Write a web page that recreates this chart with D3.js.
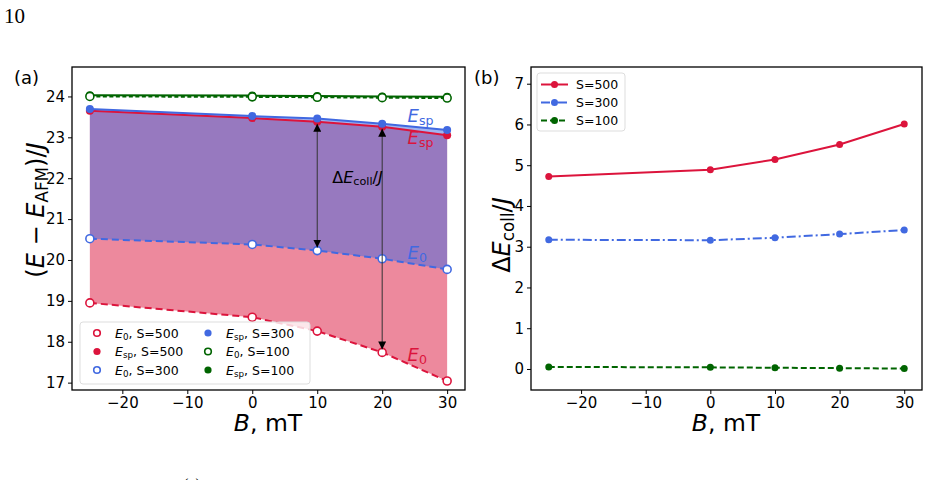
<!DOCTYPE html>
<html>
<head>
<meta charset="utf-8">
<script src="https://cdn.jsdelivr.net/npm/d3@7"></script>
<style>
  body { margin: 0; background: #fff; }
  svg { font-family: "DejaVu Sans", sans-serif; }
</style>
</head>
<body>
<div id="chart"></div>
<script>
// field values, mT
const fields = [-25, 0, 10, 20, 30];

// panel (a): energies (E - E_AFM)/J
const e0S500 = [18.95, 18.60, 18.26, 17.74, 17.04];
const espS500 = [23.65, 23.47, 23.38, 23.26, 23.05];
const e0S300 = [20.52, 20.38, 20.23, 20.03, 19.77];
const espS300 = [23.69, 23.52, 23.46, 23.33, 23.18];
const e0S100 = [24.00, 23.99, 23.98, 23.97, 23.96];
const espS100 = [24.03, 24.02, 24.01, 24.00, 23.99];

// panel (b): collective gap
const dS500 = [4.72, 4.89, 5.14, 5.51, 6.01];
const dS300 = [3.17, 3.16, 3.22, 3.31, 3.41];
const dS100 = [0.05, 0.04, 0.03, 0.02, 0.01];

const xTicks = [-20, -10, 0, 10, 20, 30];
const yTicksA = [17, 18, 19, 20, 21, 22, 23, 24];
const yTicksB = [0, 1, 2, 3, 4, 5, 6, 7];

const RED = "crimson", BLUE = "royalblue", GREEN = "darkgreen";

const svg = d3.select("#chart").append("svg")
    .attr("width", 931).attr("height", 480);

// page number
svg.append("text").attr("x", 4).attr("y", 23)
    .style("font-family", "'Liberation Serif', 'DejaVu Serif', serif")
    .style("font-size", "21px").text("10");

// ---------- helpers ----------
function drawAxes(g, x, y, yTicks) {
    const [x0, x1] = x.range(), [y0, y1] = y.range();
    g.append("g").attr("transform", `translate(0,${y0})`)
        .call(d3.axisBottom(x).tickValues(xTicks).tickSize(4).tickPadding(3)
            .tickFormat(d => d < 0 ? "\u2212" + Math.abs(d) : d));
    g.append("g").attr("transform", `translate(${x0},0)`)
        .call(d3.axisLeft(y).tickValues(yTicks).tickSize(4).tickPadding(3));
    g.selectAll(".domain").remove();
    g.selectAll(".tick text")
        .style("font-family", "'DejaVu Sans'").style("font-size", "15px").attr("fill", "#000");
    g.append("rect").attr("x", x0).attr("y", y1).attr("width", x1 - x0).attr("height", y0 - y1)
        .attr("fill", "none").attr("stroke", "#000").attr("stroke-width", 1.3);
}

function series(g, x, y, vals, color, dash, open, r) {
    const pts = fields.map((f, i) => [f, vals[i]]);
    g.append("path").datum(pts)
        .attr("d", d3.line().x(d => x(d[0])).y(d => y(d[1])))
        .attr("fill", "none").attr("stroke", color).attr("stroke-width", 2)
        .attr("stroke-dasharray", dash);
    g.selectAll(null).data(pts).enter().append("circle")
        .attr("cx", d => x(d[0])).attr("cy", d => y(d[1])).attr("r", r || 4)
        .attr("fill", open ? "#fff" : color).attr("stroke", color)
        .attr("stroke-width", open ? 1.6 : 0);
}

function mathLabel(sel, parts, size) {
    parts.forEach(p => {
        const t = sel.append("tspan").text(p.t);
        if (p.i) t.style("font-style", "italic");
        if (p.sub) t.attr("baseline-shift", "-22%").style("font-size", (size * 0.7) + "px");
    });
}

// ---------- panel (a) ----------
const gA = svg.append("g");
const xA = d3.scaleLinear().domain([-27.75, 32.75]).range([72, 465]);
const yA = d3.scaleLinear().domain([16.82, 24.72]).range([390, 67]);

const area = (lo, hi) => d3.area()
    .x((d, i) => xA(fields[i]))
    .y0((d, i) => yA(lo[i])).y1((d, i) => yA(hi[i]))(fields);

gA.append("path").attr("d", area(e0S500, espS500))
    .attr("fill", RED).attr("fill-opacity", 0.5);
gA.append("path").attr("d", area(e0S300, espS300))
    .attr("fill", BLUE).attr("fill-opacity", 0.5);

drawAxes(gA, xA, yA, yTicksA);

series(gA, xA, yA, e0S500, RED, "7,4", true);
series(gA, xA, yA, espS500, RED, null, false);
series(gA, xA, yA, e0S300, BLUE, "7,4", true);
series(gA, xA, yA, espS300, BLUE, null, false);
series(gA, xA, yA, espS100, GREEN, null, false);
series(gA, xA, yA, e0S100, GREEN, "4,2.5", true);

// double arrows for the gap
svg.append("defs").append("marker").attr("id", "tri")
    .attr("viewBox", "0 0 10 10").attr("refX", 10).attr("refY", 5)
    .attr("markerWidth", 8).attr("markerHeight", 8).attr("orient", "auto-start-reverse")
    .append("path").attr("d", "M0,0L10,5L0,10Z").attr("fill", "#000");

[[10, espS500[2], e0S300[2]], [20, espS500[3], e0S500[3]]].forEach(([b, top, bot]) => {
    gA.append("line").attr("x1", xA(b)).attr("x2", xA(b))
        .attr("y1", yA(top) + 2).attr("y2", yA(bot) - 3)
        .attr("stroke", "#333").attr("stroke-width", 1)
        .attr("marker-start", "url(#tri)").attr("marker-end", "url(#tri)");
});

const gapLbl = gA.append("text").attr("x", xA(16.2)).attr("y", yA(21.88))
    .attr("text-anchor", "middle").style("font-size", "16px");
mathLabel(gapLbl, [{ t: "\u0394" }, { t: "E", i: true }, { t: "coll", sub: true }, { t: "/" }, { t: "J", i: true }], 16);

[["sp", BLUE, 23.375], ["sp", RED, 22.84], ["0", BLUE, 20.02], ["0", RED, 17.53]].forEach(([s, c, v]) => {
    const t = gA.append("text").attr("x", xA(23.9)).attr("y", yA(v))
        .attr("fill", c).style("font-size", "18px");
    mathLabel(t, [{ t: "E", i: true }, { t: s, sub: true }], 18);
});

// legend (a)
const legA = gA.append("g");
legA.append("rect").attr("x", 80).attr("y", 322).attr("width", 230).attr("height", 62).attr("rx", 3)
    .attr("fill", "#fff").attr("fill-opacity", 0.8).attr("stroke", "#ddd");
const legItems = [
    [RED, true, "0", "500"], [RED, false, "sp", "500"], [BLUE, true, "0", "300"],
    [BLUE, false, "sp", "300"], [GREEN, true, "0", "100"], [GREEN, false, "sp", "100"]
];
legItems.forEach(([c, open, s, n], i) => {
    const cx = i < 3 ? 97 : 208, cy = 333 + (i % 3) * 18.5;
    legA.append("circle").attr("cx", cx).attr("cy", cy).attr("r", open ? 3.3 : 3.6)
        .attr("fill", open ? "#fff" : c).attr("stroke", c).attr("stroke-width", open ? 1.6 : 0);
    const t = legA.append("text").attr("x", cx + 18).attr("y", cy + 4.5).style("font-size", "12.5px");
    mathLabel(t, [{ t: "E", i: true }, { t: s, sub: true }, { t: ", S=" + n }], 12.5);
});

// axis labels (a)
const yLabA = gA.append("text").attr("transform", "translate(44,210) rotate(-90)")
    .attr("text-anchor", "middle").style("font-size", "24px");
mathLabel(yLabA, [{ t: "(" }, { t: "E", i: true }, { t: " \u2212 " }, { t: "E", i: true }, { t: "AFM", sub: true }, { t: ")/" }, { t: "J", i: true }], 24);
const xLabA = gA.append("text").attr("x", 268).attr("y", 431)
    .attr("text-anchor", "middle").style("font-size", "23.5px");
mathLabel(xLabA, [{ t: "B", i: true }, { t: ", mT" }], 23.5);
gA.append("text").attr("x", 14).attr("y", 84).style("font-size", "18px").text("(a)");

// ---------- panel (b) ----------
const gB = svg.append("g");
const xB = d3.scaleLinear().domain([-27.75, 32.75]).range([531, 922]);
const yB = d3.scaleLinear().domain([-0.516, 7.41]).range([390, 67]);

drawAxes(gB, xB, yB, yTicksB);
series(gB, xB, yB, dS500, RED, null, false, 3.5);
series(gB, xB, yB, dS300, BLUE, "9,3,2,3", false, 3.5);
series(gB, xB, yB, dS100, GREEN, "6,3", false, 3.5);

const legB = gB.append("g");
legB.append("rect").attr("x", 537).attr("y", 73).attr("width", 88).attr("height", 58).attr("rx", 3)
    .attr("fill", "#fff").attr("fill-opacity", 0.8).attr("stroke", "#ddd");
[[RED, null, "500"], [BLUE, "9,3,2,3", "300"], [GREEN, "6,3", "100"]].forEach(([c, dash, n], i) => {
    const cy = 84.5 + i * 18;
    legB.append("line").attr("x1", 541).attr("x2", 568).attr("y1", cy).attr("y2", cy)
        .attr("stroke", c).attr("stroke-width", 2).attr("stroke-dasharray", dash);
    legB.append("circle").attr("cx", 554.5).attr("cy", cy).attr("r", 3.5).attr("fill", c);
    legB.append("text").attr("x", 576).attr("y", cy + 4.5).style("font-size", "12.5px").text("S=" + n);
});

const yLabB = gB.append("text").attr("transform", "translate(510,235) rotate(-90)")
    .attr("text-anchor", "middle").style("font-size", "24px");
mathLabel(yLabB, [{ t: "\u0394" }, { t: "E", i: true }, { t: "coll", sub: true }, { t: "/" }, { t: "J", i: true }], 24);
const xLabB = gB.append("text").attr("x", 726).attr("y", 431)
    .attr("text-anchor", "middle").style("font-size", "23.5px");
mathLabel(xLabB, [{ t: "B", i: true }, { t: ", mT" }], 23.5);
gB.append("text").attr("x", 474).attr("y", 84).style("font-size", "18px").text("(b)");

// cropped caption fragment at the bottom edge
svg.append("text").attr("x", 183).attr("y", 490)
    .style("font-family", "'Liberation Serif', serif").style("font-size", "16px").text("(c)");
</script>
</body>
</html>
